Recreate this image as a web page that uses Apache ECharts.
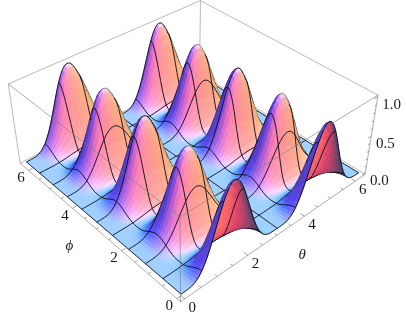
<!DOCTYPE html>
<html><head><meta charset="utf-8"><style>html,body{margin:0;padding:0;background:#fff}#c{width:406px;height:314px}</style>
<script src="https://cdn.jsdelivr.net/npm/echarts@6/dist/echarts.min.js"></script></head>
<body><div id="c"></div><script>
// Profiles, one value per sub-step (eight sub-steps per mesh cell, 10 cells)
const thetaProfile=[0,0,.001,.003,.009,.021,.043,.075,.119,.178,.25,.334,.428,.529,.63,.729,.818,.894,.952,.988,1,.988,.952,.894,.818,.729,.63,.529,.428,.334,.25,.178,.119,.075,.043,.021,.009,.003,.001,0,0,0,.001,.003,.009,.021,.043,.075,.119,.178,.25,.334,.428,.529,.63,.729,.818,.894,.952,.988,1,.988,.952,.894,.818,.729,.63,.529,.428,.334,.25,.178,.119,.075,.043,.021,.009,.003,.001,0,0];
const phiProfile=[1,.97,.882,.749,.589,.42,.265,.139,.053,.01,0,.01,.053,.139,.265,.42,.589,.749,.882,.97,1,.97,.882,.749,.589,.42,.265,.139,.053,.01,0,.01,.053,.139,.265,.42,.589,.749,.882,.97,1,.97,.882,.749,.589,.42,.265,.139,.053,.01,0,.01,.053,.139,.265,.42,.589,.749,.882,.97,1,.97,.882,.749,.589,.42,.265,.139,.053,.01,0,.01,.053,.139,.265,.42,.589,.749,.882,.97,1];
const thetaTicks=[0,.5,1,1.5,2,2.5,3,3.5,4,4.5,5,5.5,6];
const phiTicks=[0,.5,1,1.5,2,2.5,3,3.5,4,4.5,5,5.5,6];
const zTicks=[0,.1,.2,.3,.4,.5,.6,.7,.8,.9,1];
const thetaLabels=[0,2,4,6], phiLabels=[0,2,4,6], zLabels=['0.0','0.5','1.0'];
const N=thetaProfile.length-1, MESH=8, TWO_PI=6.283185;
const surface=phiProfile.map(q=>thetaProfile.map(p=>p*q));

const PAD=.02*TWO_PI;
const bx=t=>(t+PAD)/(TWO_PI+2*PAD), bz=z=>(z+.02)/1.04;
// Fit the box projection from where the box corners sit in the frame
const corners=[[0,0,0,180.7,301.7],[1,0,0,365,174.5],[0,1,0,20,163],[1,0,1,378,95],[0,1,1,8.3,84],[1,1,1,200.5,.6],[0,0,1,180,217]];
function fit(){
  const A=[],b=[];
  corners.forEach(([X,Y,Z,u,v])=>{
    A.push([X,Y,Z,1,0,0,0,0,-u*X,-u*Y,-u*Z]);b.push(u);
    A.push([0,0,0,0,X,Y,Z,1,-v*X,-v*Y,-v*Z]);b.push(v);
  });
  const n=11,M=[];
  for(let r=0;r<n;r++){M.push([]);for(let c=0;c<n;c++){let s=0;A.forEach(a=>s+=a[r]*a[c]);M[r].push(s);}let s=0;A.forEach((a,k)=>s+=a[r]*b[k]);M[r].push(s);}
  for(let c=0;c<n;c++){let p=c;for(let r=c+1;r<n;r++)if(Math.abs(M[r][c])>Math.abs(M[p][c]))p=r;[M[c],M[p]]=[M[p],M[c]];
    for(let r=0;r<n;r++)if(r!==c){const f=M[r][c]/M[c][c];for(let k=c;k<=n;k++)M[r][k]-=f*M[c][k];}}
  return M.map((row,i)=>row[n]/row[i]);
}
const P=fit();
const proj=(X,Y,Z)=>{const w=P[8]*X+P[9]*Y+P[10]*Z+1;return [(P[0]*X+P[1]*Y+P[2]*Z+P[3])/w,(P[4]*X+P[5]*Y+P[6]*Z+P[7])/w,w];};
const depthSign=proj(1,1,0)[2]>proj(0,0,1)[2]?1:-1;
const BIAS=Math.abs(proj(1,1,0)[2]-proj(0,0,0)[2])/N*1.5;

// Grid vertices
const tv=i=>i/N*TWO_PI;
const wx=[],sv=[];
for(let j=0;j<=N;j++){wx.push([]);sv.push([]);for(let i=0;i<=N;i++){const w=[bx(tv(i)),bx(tv(j)),bz(surface[j][i])];wx[j].push(w);sv[j].push(proj(w[0],w[1],w[2]));}}

// Lights in view coordinates
const R=[.767,-.642,0],U=[.452,.5,.74],V=[-.475,-.568,.673];
const AMB=[.312,.25,.4];
const LS=[[.588,-.196,.784,0],[.48,.55,.68,1],[-.196,.588,.784,2]];
const DIFF=[.8,.65,.8];
const dot=(a,b)=>a[0]*b[0]+a[1]*b[1]+a[2]*b[2];
function quad(i,j){
  const a=wx[j][i],b=wx[j][i+1],c=wx[j+1][i+1],d=wx[j+1][i];
  const sc=.4; // height of the box relative to its side
  const e=[c[0]-a[0],c[1]-a[1],(c[2]-a[2])*sc],f=[d[0]-b[0],d[1]-b[1],(d[2]-b[2])*sc];
  let n=[e[1]*f[2]-e[2]*f[1],e[2]*f[0]-e[0]*f[2],e[0]*f[1]-e[1]*f[0]];
  const l=Math.hypot(n[0],n[1],n[2]);n=n.map(x=>x/l);
  const s=[sv[j][i],sv[j][i+1],sv[j+1][i+1],sv[j+1][i]];
  let area=0;for(let k=0;k<4;k++){const p=s[k],q=s[(k+1)%4];area+=p[0]*q[1]-q[0]*p[1];}
  const back=area>0;
  if(back)n=n.map(x=>-x);
  const cn=[dot(n,R),dot(n,U),dot(n,V)];
  const rgb=AMB.slice();
  LS.forEach(L=>{rgb[L[3]]+=DIFF[L[3]]*Math.max(0,dot(cn,L));});
  const depth=depthSign*(s[0][2]+s[1][2]+s[2][2]+s[3][2])/4;
  return {fill:'rgb('+rgb.map(x=>Math.round(255*Math.min(1,x))).join(',')+')',depth,back};
}
const Q=[];for(let j=0;j<N;j++){Q.push([]);for(let i=0;i<N;i++)Q[j].push(quad(i,j));}
const items=[];
for(let j=0;j<N;j++)for(let i=0;i<N;i++)items.push([0,i,j,Q[j][i].depth]);
// kind 1: edge from (i,j) to (i+1,j); kind 2: edge from (i,j) to (i,j+1). kind+2 = silhouette variants
for(let j=0;j<=N;j++)for(let i=0;i<N;i++){
  const q1=j>0?Q[j-1][i]:null,q2=j<N?Q[j][i]:null;
  const dep=Math.max(q1?-q1.depth:-1e9,q2?-q2.depth:-1e9);
  const mesh=j%MESH===0,sil=q1&&q2&&q1.back!==q2.back;
  if(mesh)items.push([1,i,j,-dep-BIAS]);else if(sil)items.push([3,i,j,-dep-BIAS]);
}
for(let i=0;i<=N;i++)for(let j=0;j<N;j++){
  const q1=i>0?Q[j][i-1]:null,q2=i<N?Q[j][i]:null;
  const dep=Math.max(q1?-q1.depth:-1e9,q2?-q2.depth:-1e9);
  const mesh=i%MESH===0,sil=q1&&q2&&q1.back!==q2.back;
  if(mesh)items.push([2,i,j,-dep-BIAS]);else if(sil)items.push([4,i,j,-dep-BIAS]);
}
items.sort((a,b)=>b[3]-a[3]);

const edgesBack=[[[0,1,0],[1,1,0]],[[1,0,0],[1,1,0]],[[1,1,0],[1,1,1]],[[0,1,0],[0,1,1]],[[0,1,1],[1,1,1]],[[1,0,1],[1,1,1]]];
const edgesFront=[[[0,0,1],[1,0,1]],[[0,0,1],[0,1,1]],[[0,0,0],[0,0,1]],[[0,0,0],[1,0,0]],[[0,0,0],[0,1,0]],[[1,0,0],[1,0,1]]];
const GRAY='#a8a8a8';
function lineSeries(edges,color,width){
  return {type:'custom',coordinateSystem:'cartesian2d',clip:false,silent:true,animation:false,data:edges.map((e,i)=>[i]),
    renderItem(p,api){const e=edges[api.value(0)];const a=proj(...e[0]),b=proj(...e[1]);const A=api.coord([a[0],a[1]]),B=api.coord([b[0],b[1]]);
      return {type:'line',shape:{x1:A[0],y1:A[1],x2:B[0],y2:B[1]},style:{stroke:color,lineWidth:width,fill:null}};}};
}
const tickEdges=[];
thetaTicks.forEach(t=>{const M=t%2===0,X=bx(t);tickEdges.push([[X,0,0],[X,M?.02:.012,0]]);});
phiTicks.forEach(t=>{const M=t%2===0,Y=bx(t);tickEdges.push([[0,Y,0],[M?.02:.012,Y,0]]);});
zTicks.forEach((z,k)=>{const M=k%5===0,Z=bz(z);tickEdges.push([[1,0,Z],[1-(M?.02:.012),0,Z]]);});
const texts=[];
thetaLabels.forEach(t=>texts.push([String(t),bx(t),0,0,7.5,9,false]));
phiLabels.forEach(t=>texts.push([String(t),0,bx(t),0,-7.5,7.5,false]));
zLabels.forEach(s=>texts.push([s,1,0,bz(parseFloat(s)),14,8,false]));
[['θ',.5,-.16,0,-11,0,true],['ϕ',-.16,.5,0,12,0,true]].forEach(a=>texts.push(a));
const textSeries={type:'custom',coordinateSystem:'cartesian2d',clip:false,silent:true,animation:false,data:texts.map((t,i)=>[i]),
  renderItem(p,api){const t=texts[api.value(0)];const a=proj(t[1],t[2],t[3]);const c=api.coord([a[0],a[1]]);
    return {type:'text',x:c[0]+t[4],y:c[1]+t[5],style:{text:t[0],fontFamily:'"Liberation Serif",serif',fontSize:15,fontStyle:t[6]?'italic':'normal',fill:'#1a1a1a',align:'center',verticalAlign:'middle'}};}};

const surfaceSeries={type:'custom',coordinateSystem:'cartesian2d',clip:false,silent:true,animation:false,progressive:0,large:false,data:items,
  renderItem(p,api){
    const k=api.value(0),i=api.value(1),j=api.value(2);
    const c=(a,b)=>{const s=sv[b][a];return api.coord([s[0],s[1]]);};
    if(k===0){const q=Q[j][i];return {type:'polygon',shape:{points:[c(i,j),c(i+1,j),c(i+1,j+1),c(i,j+1)]},style:{fill:q.fill,stroke:q.fill,lineWidth:.5}};}
    const A=c(i,j),B=(k===1||k===3)?c(i+1,j):c(i,j+1);
    const mesh=k<3;
    return {type:'line',shape:{x1:A[0],y1:A[1],x2:B[0],y2:B[1]},style:{stroke:mesh?'rgba(10,10,25,.9)':'rgba(30,30,60,.55)',lineWidth:mesh?1:.6,fill:null}};
  }};

const chart=echarts.init(document.getElementById('c'),null,{renderer:'canvas',width:406,height:314});
chart.setOption({animation:false,backgroundColor:'#fff',
  grid:{left:0,right:0,top:0,bottom:0},
  xAxis:{type:'value',min:0,max:406,show:false},
  yAxis:{type:'value',min:0,max:314,inverse:true,show:false},
  series:[lineSeries(edgesBack,GRAY,.8),surfaceSeries,lineSeries(edgesFront,'rgba(120,120,120,.75)',.8),lineSeries(tickEdges,'#777',.7),textSeries]});
</script></body></html>
